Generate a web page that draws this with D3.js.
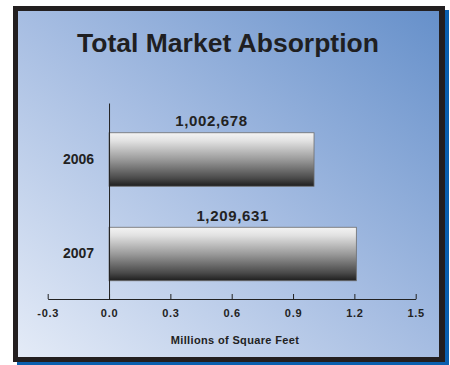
<!DOCTYPE html>
<html>
<head>
<meta charset="utf-8">
<script src="https://cdn.jsdelivr.net/npm/d3@7"></script>
<style>
  html, body { margin: 0; padding: 0; background: #ffffff; }
  svg { display: block; }
  .lbl { font-family: "Liberation Sans", Arial, sans-serif; font-weight: bold; }
</style>
</head>
<body>
<svg id="chart" width="450" height="365"></svg>
<script>
// Absorption by year, in square feet
const years = ["2006", "2007"];
const absorption = [1002678, 1209631];
// X axis ticks (millions of square feet)
const tickValues = [-0.3, 0.0, 0.3, 0.6, 0.9, 1.2, 1.5];
const tickLabels = ["-0.3", "0.0", "0.3", "0.6", "0.9", "1.2", "1.5"];
const title = "Total Market Absorption";
const axisTitle = "Millions of Square Feet";

const svg = d3.select("#chart");
const defs = svg.append("defs");

// Panel background: light at lower left, deeper blue at upper right
const bg = defs.append("linearGradient")
  .attr("id", "panelGrad")
  .attr("x1", "0").attr("y1", "1").attr("x2", "1").attr("y2", "0");
bg.append("stop").attr("offset", "0%").attr("stop-color", "#e4ebf7");
bg.append("stop").attr("offset", "50%").attr("stop-color", "#a6bde2");
bg.append("stop").attr("offset", "100%").attr("stop-color", "#6690ca");

// Metallic bar fill
const bar = defs.append("linearGradient")
  .attr("id", "barGrad")
  .attr("x1", "0").attr("y1", "0").attr("x2", "0").attr("y2", "1");
bar.append("stop").attr("offset", "0%").attr("stop-color", "#f4f4f4");
bar.append("stop").attr("offset", "15%").attr("stop-color", "#e2e2e2");
bar.append("stop").attr("offset", "50%").attr("stop-color", "#9a9a9a");
bar.append("stop").attr("offset", "85%").attr("stop-color", "#4a4a4a");
bar.append("stop").attr("offset", "100%").attr("stop-color", "#1e1e1e");

// Frame: blue drop shadow, dark border, gradient panel
svg.append("rect").attr("x", 17).attr("y", 10).attr("width", 432).attr("height", 355).attr("fill", "#0a5fae");
svg.append("rect").attr("x", 13).attr("y", 6).attr("width", 432).attr("height", 356).attr("fill", "#231f20");
svg.append("rect").attr("x", 18).attr("y", 11).attr("width", 421).attr("height", 346).attr("fill", "url(#panelGrad)");

svg.append("text")
  .attr("class", "lbl")
  .attr("x", 228).attr("y", 52)
  .attr("text-anchor", "middle")
  .attr("font-size", 26.5)
  .attr("fill", "#1f1f22")
  .text(title);

const x = d3.scaleLinear().domain([-0.3, 1.5]).range([47.7, 415.7]);
const y = d3.scaleBand().domain(years).range([103, 299])
  .paddingInner(0.434).paddingOuter(0.254).align(0.62);

const data = years.map((yr, i) => ({ year: yr, value: absorption[i] }));

// Bars
svg.append("g").selectAll("rect")
  .data(data)
  .join("rect")
  .attr("x", x(0))
  .attr("y", d => y(d.year))
  .attr("width", d => x(d.value / 1e6) - x(0))
  .attr("height", y.bandwidth())
  .attr("fill", "url(#barGrad)")
  .attr("stroke", "#6d6d6d")
  .attr("stroke-width", 0.8);

// Value labels above bars
svg.append("g").selectAll("text")
  .data(data)
  .join("text")
  .attr("class", "lbl")
  .attr("x", d => (x(0) + x(d.value / 1e6)) / 2)
  .attr("y", d => y(d.year) - 6.5)
  .attr("text-anchor", "middle")
  .attr("font-size", 15)
  .attr("letter-spacing", 0.65)
  .attr("fill", "#222")
  .text(d => d3.format(",")(d.value));

// Category axis
const yAxis = svg.append("g")
  .attr("transform", `translate(${x(0)},0)`)
  .call(d3.axisLeft(y).tickSize(0).tickPadding(15));
yAxis.select(".domain").attr("stroke", "#222").attr("stroke-width", 1);
yAxis.selectAll("text")
  .attr("class", "lbl")
  .attr("font-size", 14)
  .attr("fill", "#222");

// Value axis with ticks pointing up
const xAxis = svg.append("g")
  .attr("transform", "translate(0,299)")
  .call(d3.axisBottom(x)
    .tickValues(tickValues)
    .tickFormat((d, i) => tickLabels[i])
    .tickSizeInner(-5)
    .tickSizeOuter(0)
    .tickPadding(10));
xAxis.select(".domain").attr("stroke", "#222").attr("stroke-width", 1);
xAxis.selectAll(".tick line").attr("stroke", "#222");
xAxis.selectAll("text")
  .attr("class", "lbl")
  .attr("font-size", 11)
  .attr("letter-spacing", 0.7)
  .attr("fill", "#222");

svg.append("text")
  .attr("class", "lbl")
  .attr("x", 235).attr("y", 344)
  .attr("text-anchor", "middle")
  .attr("font-size", 11)
  .attr("letter-spacing", 0.35)
  .attr("fill", "#222")
  .text(axisTitle);
</script>
</body>
</html>
